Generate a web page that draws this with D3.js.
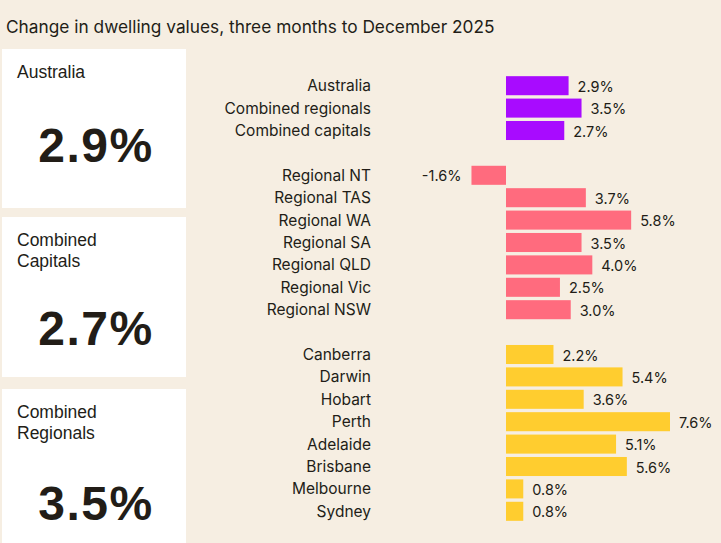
<!DOCTYPE html>
<html><head><meta charset="utf-8">
<script src="https://cdn.jsdelivr.net/npm/d3@7"></script>
<style>
body{margin:0;background:#F6EEE2;}
svg{display:block;}
</style></head>
<body>
<svg id="chart" width="721" height="543"></svg>
<script>
const title = "Change in dwelling values, three months to December 2025";
const cardLabels = [["Australia"], ["Combined", "Capitals"], ["Combined", "Regionals"]];
const cardValues = [2.9, 2.7, 3.5];

const categories = ["Australia","Combined regionals","Combined capitals","",
  "Regional NT","Regional TAS","Regional WA","Regional SA","Regional QLD","Regional Vic","Regional NSW","",
  "Canberra","Darwin","Hobart","Perth","Adelaide","Brisbane","Melbourne","Sydney"];
const values = [2.9,3.5,2.7,null,
  -1.6,3.7,5.8,3.5,4.0,2.5,3.0,null,
  2.2,5.4,3.6,7.6,5.1,5.6,0.8,0.8];
const groups = ["national","national","national",null,
  "regional","regional","regional","regional","regional","regional","regional",null,
  "capital","capital","capital","capital","capital","capital","capital","capital"];
const groupColors = {national:"#A80BFF", regional:"#FF6B7E", capital:"#FFCD2F"};

const svg = d3.select("#chart");
const ink = "#221D17";
const font = "Inter, 'Liberation Sans', sans-serif";
const pct = v => d3.format(".1f")(v).replace("\u2212","-") + "%";

svg.append("text").attr("x",6).attr("y",33).attr("font-family",font)
  .attr("font-size",17.3).attr("fill",ink).text(title);

// Cards
const cardTops = [49, 217, 389];
const cardH = [159, 160, 170];
const numY = [113, 128, 131];
cardLabels.forEach((lines,i)=>{
  const g = svg.append("g").attr("transform",`translate(2,${cardTops[i]})`);
  g.append("rect").attr("width",184).attr("height",cardH[i]).attr("fill","#FFFFFF");
  lines.forEach((t,j)=>{
    g.append("text").attr("x",15).attr("y",29+j*21).attr("font-family","'Liberation Sans', Arial, sans-serif")
      .attr("font-size",17.5).attr("fill",ink).text(t);
  });
  g.append("text").attr("x",94).attr("y",numY[i])
    .attr("text-anchor","middle").attr("font-family","'Liberation Sans', Arial, sans-serif")
    .attr("font-weight","bold").attr("font-size",48).attr("letter-spacing",1.5).attr("fill",ink)
    .text(pct(cardValues[i]));
});

// Bars
const x = d3.scaleLinear().domain([0, 7.6]).range([506, 670]);
const y = d3.scaleBand().domain(d3.range(categories.length)).range([74.5, 522.5]).paddingInner(0.15).paddingOuter(0.075);

const rows = svg.append("g");
categories.forEach((c,i)=>{
  if(values[i]===null) return;
  const v = values[i];
  const yy = y(i);
  rows.append("rect")
    .attr("x", x(Math.min(0,v))).attr("y", yy)
    .attr("width", Math.abs(x(v)-x(0))).attr("height", y.bandwidth())
    .attr("fill", groupColors[groups[i]]);
  rows.append("text").attr("x",371).attr("y",yy+y.bandwidth()/2).attr("dy","0.35em")
    .attr("text-anchor","end").attr("font-family",font).attr("font-size",15.5)
    .attr("fill",ink).text(c);
  rows.append("text")
    .attr("x", v<0 ? x(v)-10 : x(v)+9)
    .attr("y", yy+y.bandwidth()/2+1).attr("dy","0.35em")
    .attr("text-anchor", v<0 ? "end" : "start")
    .attr("font-family",font).attr("font-size",14.5).attr("fill",ink)
    .text(pct(v));
});
</script>
</body></html>
